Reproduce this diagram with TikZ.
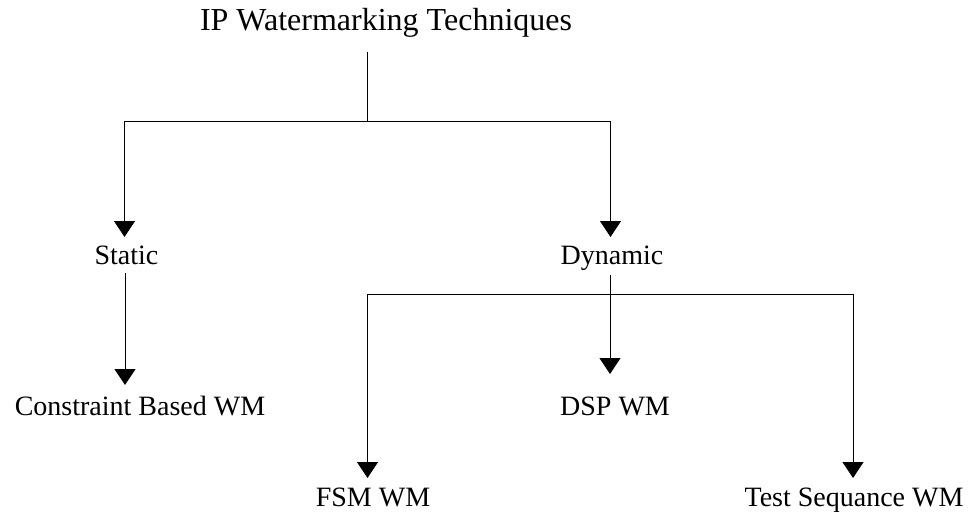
\documentclass[tikz,border=0pt]{standalone}
\usepackage{fontspec}
\setmainfont{Liberation Serif}
\usetikzlibrary{arrows.meta}
\begin{document}
\begin{tikzpicture}[x=1pt,y=-1pt,
  lbl/.style={anchor=base,inner sep=0pt,font=\fontsize{28}{30}\selectfont},
  ttl/.style={anchor=base,inner sep=0pt,font=\fontsize{32}{36}\selectfont},
  conn/.style={line width=1pt,draw=black},
  arr/.style={conn,-{Triangle[width=21pt,length=16pt]}}]
\useasboundingbox (0,0) rectangle (971,516);
% nodes
\node[ttl] (root) at (386,31) {IP Watermarking Techniques};
\node[lbl] (static) at (126.5,264) {Static};
\node[lbl] (dynamic) at (612,264) {Dynamic};
\node[lbl] (constraint) at (140,415) {Constraint Based WM};
\node[lbl] (dsp) at (615,415) {DSP WM};
\node[lbl] (fsm) at (373,506) {FSM WM};
\node[lbl] (test) at (854,506) {Test Sequance WM};
% junctions and tips
\coordinate (r0) at (367,52);
\coordinate (rj) at (367,122);
\coordinate (sTip) at (124.5,237);
\coordinate (dTip) at (610.5,237);
\coordinate (s0) at (125,273);
\coordinate (cTip) at (125,385);
\coordinate (d0) at (610,275);
\coordinate (dj) at (610,294);
\coordinate (pTip) at (610,374);
\coordinate (fTip) at (367.5,478);
\coordinate (tTip) at (853,478);
% connectors
\draw[conn] (r0) -- (rj);
\draw[arr] (rj) -| (sTip);
\draw[arr] (rj) -| (dTip);
\draw[arr] (s0) -- (cTip);
\draw[arr] (d0) -- (pTip);
\draw[arr] (dj) -| (fTip);
\draw[arr] (dj) -| (tTip);
\end{tikzpicture}
\end{document}
